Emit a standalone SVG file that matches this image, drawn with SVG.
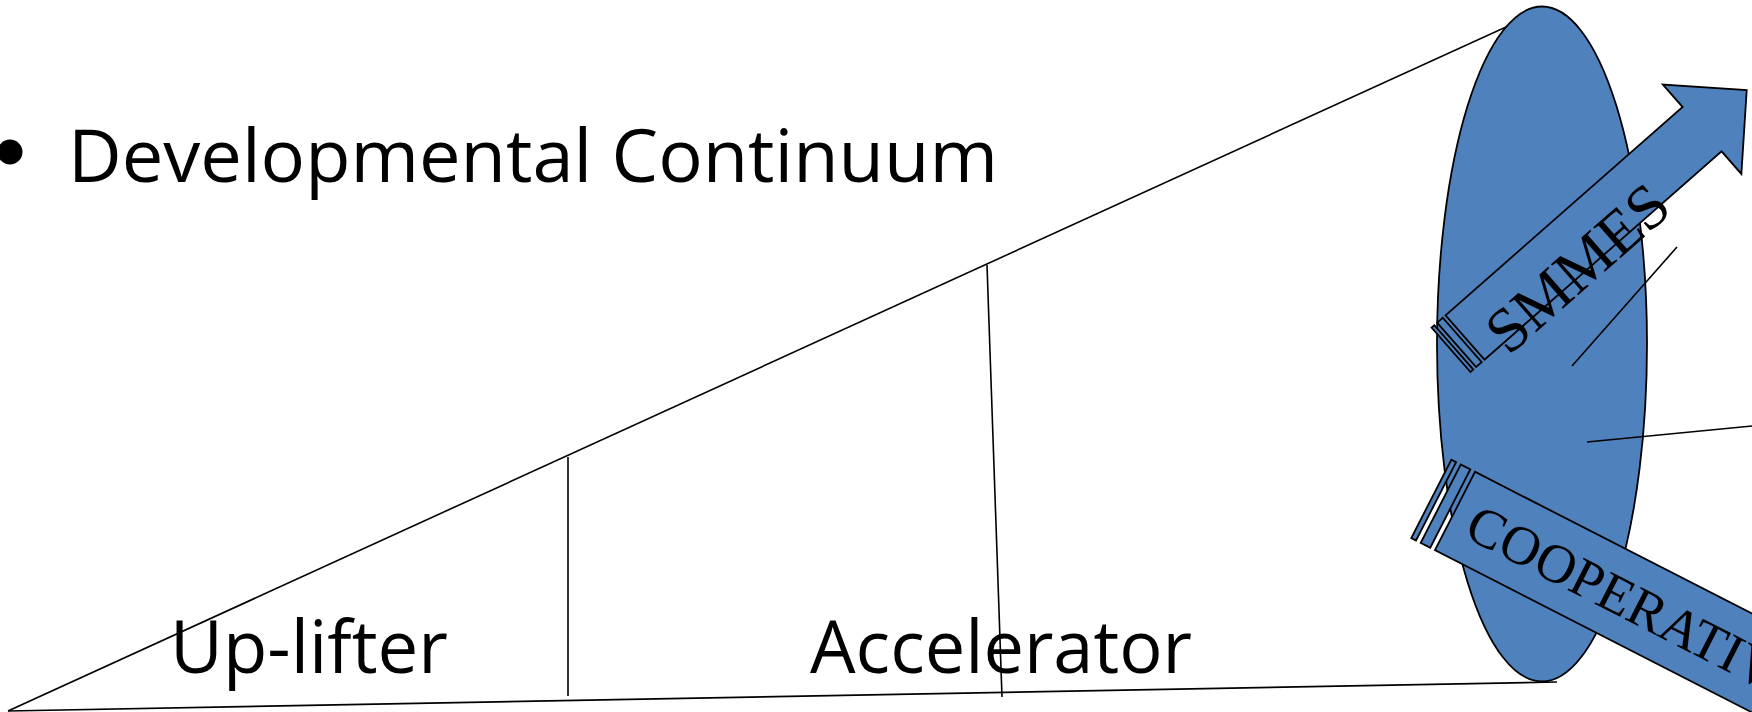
<svg xmlns="http://www.w3.org/2000/svg" width="1752" height="712" viewBox="0 0 1752 712">
  <style>
    .ln { stroke: #000; stroke-width: 1.6; fill: none; }
    .shape { fill: #4F81BD; stroke: #000; stroke-width: 1.8; stroke-linejoin: miter; }
    .sans { font-family: "Open Sans", "Liberation Sans", sans-serif; fill: #000; }
    .serif { font-family: "Liberation Serif", "Times New Roman", serif; fill: #000; }
  </style>
  <rect width="1752" height="712" fill="#fff"/>

  <g id="title">
    <circle cx="10" cy="152" r="12.5" fill="#000"/>
    <text class="sans" x="68" y="182" font-size="73" textLength="930" lengthAdjust="spacingAndGlyphs">Developmental Continuum</text>
  </g>

  <g id="connectors">
    <line class="ln" x1="8" y1="711" x2="1530" y2="16"/>
    <line class="ln" x1="8" y1="711" x2="1557" y2="682"/>
    <line class="ln" x1="568" y1="457" x2="568" y2="696"/>
    <line class="ln" x1="987" y1="265" x2="1002" y2="697"/>
  </g>

  <g id="uplifter">
    <text class="sans" x="170" y="673" font-size="74" textLength="278" lengthAdjust="spacingAndGlyphs">Up-lifter</text>
  </g>
  <g id="accelerator">
    <text class="sans" x="810" y="673" font-size="74" textLength="382" lengthAdjust="spacingAndGlyphs">Accelerator</text>
  </g>

  <g id="ellipse">
    <ellipse class="shape" cx="1542" cy="344" rx="105" ry="337.5"/>
  </g>

  <g id="smmes" transform="translate(1465 337.5) rotate(-41.3)">
    <rect class="shape" x="-18.6" y="-29.5" width="3.7" height="59"/>
    <rect class="shape" x="-11.2" y="-29.5" width="7.5" height="59"/>
    <polygon class="shape" points="0,-29.5 315.6,-29.5 315.6,-59.5 375,0 315.6,59.5 315.6,29.5 0,29.5"/>
    <text class="serif" x="20" y="43" font-size="63">SMMES</text>
  </g>

  <g id="callouts">
    <line class="ln" x1="1572" y1="366" x2="1677" y2="247"/>
    <line class="ln" x1="1587" y1="442" x2="1752" y2="426"/>
  </g>

  <g id="cooperatives" transform="translate(1455 511) rotate(27.1)">
    <rect class="shape" x="-26.6" y="-44" width="5.3" height="88"/>
    <rect class="shape" x="-16" y="-44" width="10.7" height="88"/>
    <rect class="shape" x="0" y="-44" width="480" height="88"/>
    <text class="serif" x="18" y="19" font-size="55">COOPERATIV</text>
  </g>
</svg>
